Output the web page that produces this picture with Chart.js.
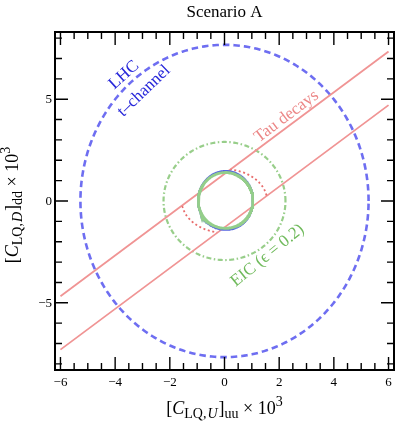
<!DOCTYPE html>
<html>
<head>
<meta charset="utf-8">
<script src="https://cdn.jsdelivr.net/npm/chart.js@4/dist/chart.umd.min.js"></script>
<style>
  html, body { margin: 0; padding: 0; background: #fff; }
  canvas { display: block; }
</style>
</head>
<body>
<canvas id="c" width="403" height="422"></canvas>
<script>
// Tick labels
const xTicks = [-6, -4, -2, 0, 2, 4, 6];
const yTicks = [-5, 0, 5];

// Semi-axes [uu, dd] of each allowed region (x 10^3)
const lhcAxes = [5.27, 7.67];       // LHC t-channel
const eicAxes = [2.23, 2.90];       // EIC (eps = 0.2)
const blueFitAxes = [1.00, 1.44];
const greenFitAxes = [1.00, 1.37];
const tauRingAxes = [1.56, 1.56];   // tau-decay ring, kept only inside the band

// Centre of the two inner regions
const fitCentre = [0.04, 0.03];

// End points of the two edges of the tau-decay band
const tauUpper = [[-6, -4.68], [6, 7.34]];
const tauLower = [[-6, -7.30], [6, 4.71]];

const serif = '"Liberation Serif", "Times New Roman", serif';

function ring(axes, centre = [0, 0], n = 360) {
  const pts = [];
  for (let i = 0; i <= n; i++) {
    const t = 2 * Math.PI * i / n;
    pts.push({ x: centre[0] + axes[0] * Math.cos(t), y: centre[1] + axes[1] * Math.sin(t) });
  }
  return pts;
}

function edgeAt(edge, x) {
  const [[x0, y0], [x1, y1]] = edge;
  return y0 + (y1 - y0) * (x - x0) / (x1 - x0);
}

// tau ring, broken wherever it leaves the band
const tauRing = ring(tauRingAxes).map(p =>
  (p.y <= edgeAt(tauUpper, p.x) && p.y >= edgeAt(tauLower, p.x)) ? p : { x: p.x, y: null });

const toPts = seg => seg.map(([x, y]) => ({ x, y }));

const base = { showLine: true, pointRadius: 0, pointHoverRadius: 0, fill: false, tension: 0, spanGaps: false };

const datasets = [
  Object.assign({}, base, { label: 'LHC t-channel', data: ring(lhcAxes), borderColor: 'rgba(102,102,240,0.95)', borderWidth: 2.6, borderDash: [6.5, 4], order: 6 }),
  Object.assign({}, base, { label: 'EIC', data: ring(eicAxes), borderColor: 'rgb(152,206,138)', borderWidth: 2.2, borderDash: [5, 2.5, 1.5, 2.5], order: 5 }),
  Object.assign({}, base, { label: 'Tau decays upper', data: toPts(tauUpper), borderColor: 'rgb(240,148,148)', borderWidth: 1.8, order: 4 }),
  Object.assign({}, base, { label: 'Tau decays lower', data: toPts(tauLower), borderColor: 'rgb(240,148,148)', borderWidth: 1.8, order: 4 }),
  Object.assign({}, base, { label: 'Tau ring', data: tauRing, borderColor: 'rgb(232,108,108)', borderWidth: 1.8, borderDash: [2, 2.6], order: 3 }),
  Object.assign({}, base, { label: 'Blue fit', data: ring(blueFitAxes, fitCentre), borderColor: 'rgb(85,100,225)', borderWidth: 2.2, order: 2 }),
  Object.assign({}, base, { label: 'Green fit', data: ring(greenFitAxes, fitCentre), borderColor: 'rgb(148,206,138)', borderWidth: 2.8, order: 1 })
];

function richText(ctx, parts, x, y, align) {
  let w = 0;
  parts.forEach(p => { ctx.font = p.font; w += ctx.measureText(p.t).width + (p.gap || 0); });
  let cx = align === 'center' ? x - w / 2 : x;
  parts.forEach(p => {
    ctx.font = p.font;
    ctx.fillText(p.t, cx, y + (p.dy || 0));
    cx += ctx.measureText(p.t).width + (p.gap || 0);
  });
}

function axisTitle(q, sub) {
  const big = '18px ' + serif, bigI = 'italic 18px ' + serif;
  const sm = '14px ' + serif, smI = 'italic 14px ' + serif;
  return [
    { t: '[', font: big },
    { t: 'C', font: bigI },
    { t: 'LQ,', font: sm, dy: 4, gap: 1 },
    { t: q, font: smI, dy: 4, gap: 1 },
    { t: ']', font: big },
    { t: sub, font: sm, dy: 4 },
    { t: ' \u00d7 10', font: big },
    { t: '3', font: sm, dy: -8 }
  ];
}

function rotatedLabel(ctx, text, cx, cy, deg, color) {
  ctx.save();
  ctx.translate(cx, cy);
  ctx.rotate(deg * Math.PI / 180);
  ctx.fillStyle = color;
  ctx.font = '17px ' + serif;
  ctx.textAlign = 'center';
  ctx.textBaseline = 'middle';
  ctx.fillText(text, 0, 0);
  ctx.restore();
}

const framePlugin = {
  id: 'framePlugin',
  afterDraw(chart) {
    const { ctx, chartArea: a, scales: { x, y } } = chart;
    ctx.save();
    ctx.strokeStyle = '#000';
    ctx.fillStyle = '#000';

    // ticks on all four sides, pointing inwards
    ctx.lineWidth = 1.4;
    ctx.beginPath();
    for (let v = -12; v <= 12; v++) {
      const val = v * 0.5;
      if (val < x.min || val > x.max) continue;
      const px = x.getPixelForValue(val);
      const len = (v % 4 === 0) ? 13 : 7;
      ctx.moveTo(px, a.bottom); ctx.lineTo(px, a.bottom - len);
      ctx.moveTo(px, a.top); ctx.lineTo(px, a.top + len);
    }
    for (let val = -8; val <= 8; val++) {
      const py = y.getPixelForValue(val);
      const len = (val % 5 === 0) ? 13 : 7;
      ctx.moveTo(a.left, py); ctx.lineTo(a.left + len, py);
      ctx.moveTo(a.right, py); ctx.lineTo(a.right - len, py);
    }
    ctx.stroke();

    // frame
    ctx.lineWidth = 2;
    ctx.strokeRect(a.left, a.top, a.right - a.left, a.bottom - a.top);

    // tick labels
    ctx.font = '13px ' + serif;
    ctx.textBaseline = 'alphabetic';
    ctx.textAlign = 'center';
    const fmt = v => (v < 0 ? '\u2212' + Math.abs(v) : String(v));
    xTicks.forEach(v => ctx.fillText(fmt(v), x.getPixelForValue(v), a.bottom + 16));
    ctx.textAlign = 'right';
    yTicks.forEach(v => ctx.fillText(fmt(v), a.left - 3, y.getPixelForValue(v) + 4.3));

    // title
    ctx.textAlign = 'center';
    ctx.font = '17px ' + serif;
    ctx.fillText('Scenario A', (a.left + a.right) / 2, 17);

    // axis titles
    ctx.textAlign = 'left';
    richText(ctx, axisTitle('U', 'uu'), (a.left + a.right) / 2, 413.5, 'center');
    ctx.save();
    ctx.translate(17.5, 205);
    ctx.rotate(-Math.PI / 2);
    richText(ctx, axisTitle('D', 'dd'), 0, 0, 'center');
    ctx.restore();

    // region labels
    rotatedLabel(ctx, 'LHC', 124, 75, -42, 'rgb(40,40,218)');
    rotatedLabel(ctx, 't\u2013channel', 144, 91, -44, 'rgb(40,40,218)');
    rotatedLabel(ctx, 'Tau decays', 286.5, 116.5, -37, 'rgb(236,135,135)');
    rotatedLabel(ctx, 'EIC (\u03f5 = 0.2)', 267.5, 255.5, -39, 'rgb(112,186,92)');

    ctx.restore();
  }
};

new Chart(document.getElementById('c'), {
  type: 'scatter',
  data: { datasets },
  options: {
    responsive: false,
    animation: false,
    events: [],
    layout: { padding: { left: 55, right: 9, top: 32, bottom: 52 } },
    scales: {
      x: { type: 'linear', min: -6.2, max: 6.2, display: false },
      y: { type: 'linear', min: -8.3, max: 8.3, display: false }
    },
    plugins: { legend: { display: false }, tooltip: { enabled: false } }
  },
  plugins: [framePlugin]
});
</script>
</body>
</html>
